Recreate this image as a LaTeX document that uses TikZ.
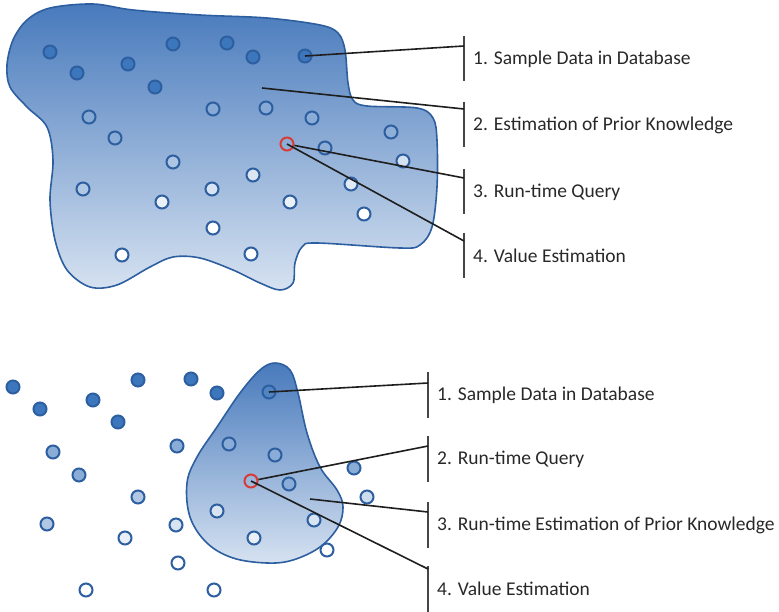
\documentclass[tikz,border=0pt]{standalone}
\usepackage{fontspec}
\setmainfont{Carlito}
\usetikzlibrary{positioning}

\definecolor{dotblue}{RGB}{60,118,188}
\definecolor{dotline}{RGB}{45,95,160}
\definecolor{blobtop}{RGB}{72,122,188}
\definecolor{blobbottom}{RGB}{214,226,241}
\definecolor{queryred}{RGB}{215,60,55}
\definecolor{linegray}{RGB}{30,30,30}
\definecolor{bargray}{RGB}{70,70,70}
\definecolor{textgray}{RGB}{40,40,40}

\tikzset{%
        every dot/.style={
            circle,
            draw=dotline,
            line width=2bp,
            minimum size=13bp,
            inner sep=0pt
        },
        query dot/.style={
            circle,
            draw=queryred,
            line width=2bp,
            minimum size=13bp,
            inner sep=0pt
        },
        blob/.style={
            draw=dotline,
            line width=1.6bp,
            top color=blobtop,
            bottom color=blobbottom
        },
        pointer/.style={draw=linegray, line width=1.6bp},
        bracket/.style={draw=bargray, line width=2.3bp},
        item label/.style={
            anchor=west,
            inner sep=0pt,
            text=textgray,
            font=\fontsize{19.5bp}{22bp}\selectfont
        },
    }

\begin{document}
\begin{tikzpicture}[x=1bp, y=-1bp]
        \useasboundingbox (0,0) rectangle (779,612);

        \path[blob] plot[smooth cycle, tension=0.55] coordinates {
            (7,65) (13,40) (27,20) (50,8) (93,4) (133,10) (200,15) (267,18)
            (320,25) (338,33) (345,50) (348,83) (353,100) (367,106) (417,108)
            (433,118) (437,140) (437,187) (432,227) (420,245) (400,248)
            (317,243) (302,247) (295,263) (293,283) (280,290) (260,283)
            (233,270) (200,258) (173,257) (150,267) (117,285) (90,287)
            (67,270) (55,240) (50,200) (53,160) (47,127) (27,107) (10,87)};

        \path[blob] plot[smooth cycle, tension=0.6] coordinates {
            (275,363) (290,370) (298,393) (307,433) (320,467) (337,490)
            (343,507) (338,527) (320,547) (293,560) (267,563) (233,558)
            (207,543) (190,517) (187,483) (197,457) (217,427) (240,393)
            (260,370)};

        \foreach \x/\y/\s [count=\i] in {50/52/100, 77/73/100, 128/64/100,
            173/44/100, 227/43/100, 253/57/100, 305/56/100, 155/87/100,
            89/117/62, 115/138/60, 213/109/62, 266/108/62, 312/118/60,
            391/132/58, 325/148/58, 403/161/22, 173/162/42, 253/175/18,
            351/184/15, 83/189/40, 212/189/20, 162/202/10, 290/202/10,
            364/214/0, 213/228/0, 122/255/0, 251/254/0}
        \node [every dot, fill=dotblue!\s!white] (top-\i) at (\x,\y) {};

        \foreach \x/\y/\s [count=\i] in {13/387/100, 40/409/100, 93/400/100,
            138/380/100, 118/422/100, 191/379/100, 217/393/100, 269/392/90,
            53/452/60, 79/475/60, 177/446/60, 229/444/60, 275/455/60,
            354/468/60, 289/484/60, 138/497/40, 367/497/25, 217/511/20,
            47/524/40, 176/525/20, 314/520/20, 125/538/12, 254/538/12,
            327/550/0, 178/563/0, 86/590/0, 214/590/0}
        \node [every dot, fill=dotblue!\s!white] (bot-\i) at (\x,\y) {};

        \node [query dot] (top-q) at (287,144) {};
        \node [query dot] (bot-q) at (251,481) {};
        \coordinate (top-prior) at (262,88);
        \coordinate (bot-prior) at (310,499);

        \foreach \l/\y/\j [count=\i] in {1. Sample Data in Database/59/46,
            2. Estimation of Prior Knowledge/125/109,
            3. Run-time Query/192/178,
            4. Value Estimation/256/241}
        {
            \coordinate (top-j\i) at (464,\j);
            \draw [bracket] (464,\y-23) -- (464,\y+22);
            \node [item label] (top-l\i) at (473,\y) {\l};
        }

        \foreach \l/\y/\j [count=\i] in {1. Sample Data in Database/395/383,
            2. Run-time Query/459/446,
            3. Run-time Estimation of Prior Knowledge/525/512,
            4. Value Estimation/589/569}
        {
            \coordinate (bot-j\i) at (428,\j);
            \draw [bracket] (428,\y-23) -- (428,\y+23);
            \node [item label] (bot-l\i) at (437,\y) {\l};
        }

        \draw [pointer] (top-7.center) -- (top-j1);
        \draw [pointer] (top-prior) -- (top-j2);
        \draw [pointer] (top-q) -- (top-j3);
        \draw [pointer] (top-q.center) -- (top-j4);

        \draw [pointer] (bot-8.center) -- (bot-j1);
        \draw [pointer] (bot-q) -- (bot-j2);
        \draw [pointer] (bot-prior) -- (bot-j3);
        \draw [pointer] (bot-q.center) -- (bot-j4);
    \end{tikzpicture}
\end{document}
